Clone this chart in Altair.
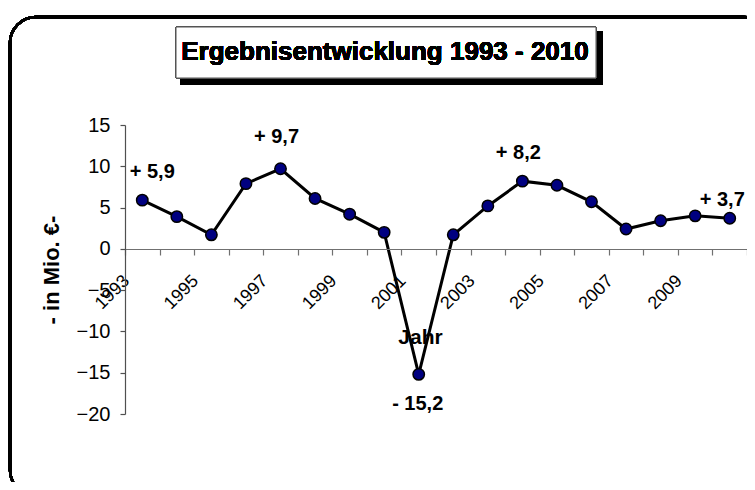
import altair as alt
import pandas as pd

years = [str(y) for y in range(1993, 2011)]
values = [5.9, 3.9, 1.7, 7.9, 9.7, 6.1, 4.2, 2.0, -15.2, 1.7, 5.2, 8.2, 7.7, 5.7, 2.4, 3.4, 4.0, 3.7]
label_years = ["1993", "1997", "2001", "2004", "2010"]
label_texts = ["+ 5,9", "+ 9,7", "- 15,2", "+ 8,2", "+ 3,7"]
title_text = "Ergebnisentwicklung 1993 - 2010"
y_title = "- in Mio. €-"
x_title = "Jahr"

FONT = "Liberation Sans"

df = pd.DataFrame({"Jahr": years, "Wert": values})
lab = pd.DataFrame({"Jahr": label_years, "Text": label_texts,
                    "Wert": [values[years.index(y)] for y in label_years]})

W, H = 622, 289

x_scale = alt.Scale(domain=years, paddingInner=0, paddingOuter=0)
y_scale = alt.Scale(domain=[-20, 15], nice=False)

x_enc = alt.X("Jahr:N", scale=x_scale,
              axis=alt.Axis(title=x_title, offset=-165, tickBand="extent",
                            labelAngle=315, labelAlign="right", labelBaseline="middle",
                            labelPadding=23, labelOffset=-16,
                            labelExpr="toNumber(datum.value) % 2 == 1 ? datum.label : ''",
                            labelFontSize=18, labelFont=FONT, labelColor="black",
                            domainColor="#707070", tickColor="#707070", tickSize=6,
                            domainWidth=1.2, tickWidth=1.2,
                            titleFont=FONT, titleFontSize=21, titleFontWeight="bold",
                            titleColor="black",
                            titleX=295, titleY=94, titleBaseline="alphabetic",
                            titleAnchor="start", titleAlign="center",
                            labelOverlap=False, zindex=1))
y_enc = alt.Y("Wert:Q", scale=y_scale,
              axis=alt.Axis(title=y_title, values=[-20, -15, -10, -5, 0, 5, 10, 15],
                            labelFontSize=20, labelFont=FONT, labelColor="black",
                            labelPadding=10, tickSize=5,
                            domainColor="#505050", tickColor="#505050", grid=False,
                            domainWidth=1.2, tickWidth=1.2,
                            titleFont=FONT, titleFontSize=22, titleFontWeight="bold",
                            titleColor="black",
                            titleX=-74, titleY=H / 2, titleBaseline="middle",
                            titleAlign="center", titleAngle=270, zindex=1))

base = alt.Chart(df)

frame = base.mark_rect(fillOpacity=0, stroke="black", strokeWidth=2.5, cornerRadius=26).encode(
    x=alt.value(-115), x2=alt.value(644), y=alt.value(-108), y2=alt.value(371))
shadow = base.mark_rect(fill="black").encode(
    x=alt.value(55), x2=alt.value(478), y=alt.value(-94), y2=alt.value(-40))
box = base.mark_rect(fill="white", stroke="#555", strokeWidth=1).encode(
    x=alt.value(51), x2=alt.value(471), y=alt.value(-98), y2=alt.value(-47))
title = base.mark_text(font=FONT, fontSize=26, fontWeight="bold", baseline="alphabetic",
                       align="center", color="black").encode(
    x=alt.value(260), y=alt.value(-65), text=alt.value(title_text))

line = base.mark_line(color="black", strokeWidth=3).encode(x=x_enc, y=y_enc)
pts = base.mark_point(filled=True, fill="#000080", stroke="black", strokeWidth=1.5,
                      size=130, opacity=1, shape="circle").encode(
    x=alt.X("Jahr:N", scale=x_scale), y=alt.Y("Wert:Q", scale=y_scale))

offsets = {"1993": (10, -22, "center"), "1997": (-4, -26, "center"),
           "2001": (-1, 36, "center"), "2004": (-4, -22, "center"),
           "2010": (-30, -12, "left")}
labels = []
for yr, (dx, dy, al) in offsets.items():
    labels.append(alt.Chart(lab).transform_filter(alt.datum.Jahr == yr).mark_text(
        font=FONT, fontSize=20, fontWeight="bold", color="black", baseline="alphabetic",
        align=al, dx=dx, dy=dy).encode(x=alt.X("Jahr:N", scale=x_scale),
                                      y=alt.Y("Wert:Q", scale=y_scale), text="Text:N"))

chart = alt.layer(frame, shadow, box, title, line, pts, *labels).properties(
    width=W, height=H,
    background="white",
    autosize=alt.AutoSizeParams(type="none"),
    padding={"left": 117, "top": 117, "right": 0, "bottom": 68},
).configure_view(stroke=None)

chart.save("out.html", embed_options={"renderer": "svg", "actions": False})
